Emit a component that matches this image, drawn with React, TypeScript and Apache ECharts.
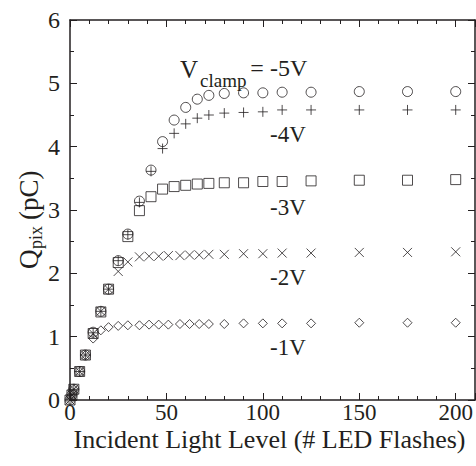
import React, { useEffect, useRef } from "react";
import * as echarts from "echarts";

// ---- data ----
const x1V = [0, 1, 2, 5, 8, 12, 16, 20, 25, 30, 36, 41, 46, 51, 57, 62, 67, 72, 80, 90, 100, 110, 125, 150, 175, 200];
const y1V = [0, 0.08, 0.17, 0.45, 0.71, 0.97, 1.1, 1.15, 1.17, 1.18, 1.18, 1.19, 1.19, 1.19, 1.2, 1.2, 1.2, 1.2, 1.2, 1.21, 1.21, 1.21, 1.21, 1.22, 1.22, 1.22];

const x2V = [0, 1, 2, 5, 8, 12, 16, 20, 25, 30, 36, 41, 46, 51, 57, 62, 67, 72, 80, 90, 100, 110, 125, 150, 175, 200];
const y2V = [0, 0.08, 0.17, 0.45, 0.71, 1.05, 1.4, 1.75, 2.03, 2.18, 2.26, 2.27, 2.27, 2.28, 2.28, 2.29, 2.29, 2.3, 2.3, 2.31, 2.31, 2.32, 2.32, 2.33, 2.33, 2.34];

const x3V = [0, 1, 2, 5, 8, 12, 16, 20, 25, 30, 36, 42, 48, 54, 60, 66, 72, 80, 90, 100, 110, 125, 150, 175, 200];
const y3V = [0, 0.08, 0.17, 0.45, 0.71, 1.05, 1.39, 1.75, 2.17, 2.58, 2.99, 3.21, 3.33, 3.37, 3.39, 3.41, 3.42, 3.43, 3.43, 3.45, 3.45, 3.46, 3.47, 3.47, 3.48];

const x4V = [0, 1, 2, 5, 8, 12, 16, 20, 25, 30, 36, 42, 48, 54, 60, 66, 72, 80, 90, 100, 110, 125, 150, 175, 200];
const y4V = [0, 0.08, 0.17, 0.45, 0.71, 1.06, 1.4, 1.75, 2.2, 2.61, 3.12, 3.61, 3.97, 4.21, 4.36, 4.45, 4.5, 4.53, 4.54, 4.55, 4.58, 4.58, 4.58, 4.58, 4.58];

const x5V = [0, 1, 2, 5, 8, 12, 16, 20, 25, 30, 36, 42, 48, 54, 60, 66, 72, 80, 90, 100, 110, 125, 150, 175, 200];
const y5V = [0, 0.08, 0.17, 0.45, 0.71, 1.07, 1.4, 1.75, 2.2, 2.62, 3.14, 3.63, 4.08, 4.42, 4.62, 4.75, 4.81, 4.84, 4.85, 4.85, 4.86, 4.86, 4.87, 4.87, 4.87];

const xTickValues = [0, 50, 100, 150, 200];
const yTickValues = [0, 1, 2, 3, 4, 5, 6];
const seriesLabels = ["-1V", "-2V", "-3V", "-4V", "-5V"];
const xTitle = "Incident Light Level (# LED Flashes)";

const INK = "#231f20";
const FAMILY = "Liberation Serif";

const pair = (xs: number[], ys: number[]) => xs.map((x, i) => [x, ys[i]]);

const PLUS = "path://M5 0L5 10M0 5L10 5";
const CROSS = "path://M0 0L10 10M10 0L0 10";

export default function App() {
  const ref = useRef<HTMLDivElement>(null);

  useEffect(() => {
    if (!ref.current) return;
    const chart = echarts.init(ref.current, null, { renderer: "svg" });

    const markStyle = { color: "transparent", borderColor: INK, borderWidth: 1 };
    const mk = (name: string, data: number[][], symbol: string, size: number) => ({
      name,
      type: "scatter",
      data,
      symbol,
      symbolSize: size,
      itemStyle: markStyle,
      xAxisIndex: 0,
      yAxisIndex: 0,
      z: 3,
    });

    const majorX = (pos: string) => ({
      type: "value",
      position: pos,
      min: 0,
      max: 210,
      interval: 50,
      axisLine: { show: true, onZero: false, lineStyle: { color: INK, width: 1.5 } },
      axisTick: { show: true, inside: true, length: 7, lineStyle: { color: INK, width: 1 } },
      splitLine: { show: false },
      axisLabel: { show: false },
    });
    const minorX = (pos: string) => ({
      type: "value",
      position: pos,
      min: 0,
      max: 210,
      interval: 10,
      axisLine: { show: false, onZero: false },
      axisTick: { show: true, inside: true, length: 4, lineStyle: { color: INK, width: 1 } },
      splitLine: { show: false },
      axisLabel: { show: false },
    });
    const yAx = (pos: string) => ({
      type: "value",
      position: pos,
      min: 0,
      max: 6,
      interval: 1,
      axisLine: { show: true, onZero: false, lineStyle: { color: INK, width: 1.5 } },
      axisTick: { show: true, inside: true, length: 7, lineStyle: { color: INK, width: 1 } },
      minorTick: { show: true, splitNumber: 2, length: 4, lineStyle: { color: INK, width: 1 } },
      splitLine: { show: false },
      axisLabel: { show: false },
    });

    const txt = (text: string, x: number, y: number, size: number, align = "left") => ({
      type: "text",
      x,
      y,
      z: 10,
      style: {
        text,
        fill: INK,
        fontSize: size,
        fontFamily: FAMILY,
        align,
        verticalAlign: "middle",
      },
    });

    chart.setOption({
      animation: false,
      grid: { left: 70, right: 1, top: 20, bottom: 66, containLabel: false },
      xAxis: [majorX("bottom"), minorX("bottom"), majorX("top"), minorX("top")],
      yAxis: [yAx("left"), yAx("right")],
      series: [
        mk(seriesLabels[0], pair(x1V, y1V), "diamond", 9),
        mk(seriesLabels[1], pair(x2V, y2V), CROSS, 9),
        mk(seriesLabels[2], pair(x3V, y3V), "rect", 10),
        mk(seriesLabels[3], pair(x4V, y4V), PLUS, 10),
        mk(seriesLabels[4], pair(x5V, y5V), "circle", 10),
      ],
    });

    // tick labels placed through the library's own scales
    const x0 = chart.convertToPixel({ xAxisIndex: 0 }, 0) as number;
    const x210 = chart.convertToPixel({ xAxisIndex: 0 }, 210) as number;
    const y0 = chart.convertToPixel({ yAxisIndex: 0 }, 0) as number;
    const xLabels = xTickValues.map((v) =>
      txt(String(v), chart.convertToPixel({ xAxisIndex: 0 }, v) as number, y0 + 12.5, 23, "center")
    );
    const yLabels = yTickValues.map((v) =>
      txt(String(v), x0 - 10, chart.convertToPixel({ yAxisIndex: 0 }, v) as number, 24, "right")
    );

    chart.setOption({
      graphic: [
        ...xLabels,
        ...yLabels,
        txt(xTitle, (x0 + x210) / 2 - 3, y0 + 39, 26, "center"),
        txt("V", 180, 69, 25),
        txt("clamp", 200, 80, 19),
        txt("=", 257, 68, 24, "center"),
        txt("-5V", 270, 68, 24),
        txt("-4V", 270, 134, 23),
        txt("-3V", 270, 207, 23),
        txt("-2V", 270, 277, 23),
        txt("-1V", 270, 347, 23),
        {
          type: "group",
          x: 29,
          y: 217,
          rotation: Math.PI / 2,
          children: [
            txt("Q", -52, 0, 27),
            txt("pix", -32, 7, 18),
            txt("(pC)", -3, 0, 27),
          ],
        },
      ],
    });

    return () => chart.dispose();
  }, []);

  return (
    <div
      ref={ref}
      style={{ position: "absolute", left: 0, top: 0, width: 476, height: 466, background: "#fff" }}
    />
  );
}
